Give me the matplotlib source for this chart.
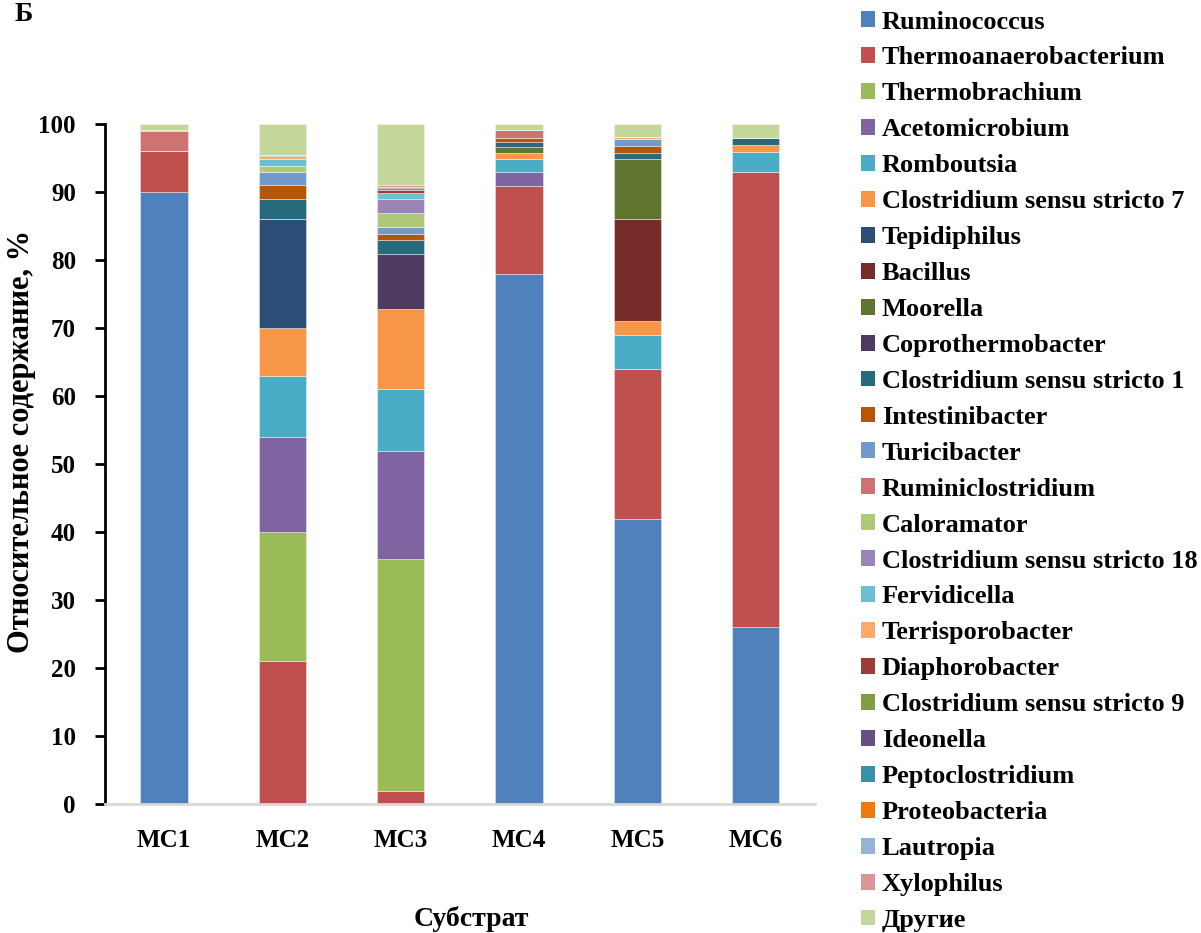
import matplotlib
matplotlib.use("Agg")
import matplotlib.pyplot as plt
import matplotlib.patches as mpatches
import numpy as np

plt.rcParams["font.family"] = ["Liberation Serif", "DejaVu Serif"]
plt.rcParams["font.weight"] = "bold"

samples = ["МС1", "МС2", "МС3", "МС4", "МС5", "МС6"]

# relative abundance, %, stacked bottom -> top
taxa = [
    "Ruminococcus", "Thermoanaerobacterium", "Thermobrachium", "Acetomicrobium",
    "Romboutsia", "Clostridium sensu stricto 7", "Tepidiphilus", "Bacillus",
    "Moorella", "Coprothermobacter", "Clostridium sensu stricto 1",
    "Intestinibacter", "Turicibacter", "Ruminiclostridium", "Caloramator",
    "Clostridium sensu stricto 18", "Fervidicella", "Terrisporobacter",
    "Diaphorobacter", "Clostridium sensu stricto 9", "Ideonella",
    "Peptoclostridium", "Proteobacteria", "Lautropia", "Xylophilus", "Другие",
]

ruminococcus = [90, 0, 0, 78, 42, 26]
thermoanaerobacterium = [6, 21, 2, 12.9, 22, 66.9]
thermobrachium = [0, 19, 34, 0, 0, 0]
acetomicrobium = [0, 14, 16, 2.0, 0, 0]
romboutsia = [0, 9, 9, 2.0, 5, 3.0]
clostridium_7 = [0, 7, 11.8, 0.8, 2, 1.0]
tepidiphilus = [0, 16, 0, 0, 0, 0]
bacillus = [0, 0, 0, 0, 15, 0]
moorella = [0, 0, 0, 1.0, 8.9, 0]
coprothermobacter = [0, 0, 8.1, 0, 0, 0]
clostridium_1 = [0, 3, 2.0, 0.7, 0.9, 1.0]
intestinibacter = [0, 2, 1.0, 0.6, 1.0, 0]
turicibacter = [0, 2, 1.0, 0, 1.0, 0]
ruminiclostridium = [3, 0, 0, 1.1, 0, 0]
caloramator = [0, 0.9, 2.0, 0, 0, 0]
clostridium_18 = [0, 0, 2.1, 0, 0, 0]
fervidicella = [0, 0.9, 0.9, 0, 0, 0]
terrisporobacter = [0, 0.5, 0, 0, 0.3, 0]
diaphorobacter = [0, 0, 0.4, 0, 0, 0]
clostridium_9 = [0, 0, 0.3, 0, 0, 0]
ideonella = [0, 0, 0.2, 0, 0, 0]
peptoclostridium = [0, 0.2, 0, 0, 0, 0]
proteobacteria = [0.2, 0, 0, 0, 0, 0]
lautropia = [0, 0, 0, 0, 0, 0]
xylophilus = [0, 0, 0.2, 0, 0, 0]
others = [0.8, 4.5, 9.0, 0.9, 1.9, 2.1]

values = [ruminococcus, thermoanaerobacterium, thermobrachium, acetomicrobium,
          romboutsia, clostridium_7, tepidiphilus, bacillus, moorella,
          coprothermobacter, clostridium_1, intestinibacter, turicibacter,
          ruminiclostridium, caloramator, clostridium_18, fervidicella,
          terrisporobacter, diaphorobacter, clostridium_9, ideonella,
          peptoclostridium, proteobacteria, lautropia, xylophilus, others]

colors = ["#4F81BD", "#C0504D", "#9BBB59", "#8064A2", "#4BACC6", "#F79646",
          "#2C4D75", "#772C2A", "#5F7530", "#4D3B62", "#276A7C", "#B65708",
          "#729ACA", "#CD7371", "#AFC97A", "#9A86B6", "#6FBDD1", "#F9AB6B",
          "#9E3B38", "#7F9D45", "#664F82", "#3A90A8", "#F07810", "#95B3D7",
          "#D99694", "#C4D79B"]

fig = plt.figure(figsize=(12.01, 9.33), dpi=100)
ax = fig.add_axes([0.0874, 0.138, 0.591, 0.729])

x = np.arange(len(samples))
bottom = np.zeros(len(samples))
for vals, c in zip(values, colors):
    vals = np.array(vals, dtype=float)
    ax.bar(x, vals, 0.4, bottom=bottom, color=c,
           edgecolor=(1, 1, 1, 0.45), linewidth=0.6)
    bottom += vals

ax.set_xlim(-0.5, 5.5)
ax.set_ylim(0, 100)
ax.set_yticks(np.arange(0, 101, 10))
ax.set_xticks(x)
ax.set_xticklabels(samples)
ax.tick_params(axis="y", direction="out", length=7, width=2, labelsize=18, pad=14)
ax.tick_params(axis="x", length=0, labelsize=18, pad=18)
for s in ["top", "right"]:
    ax.spines[s].set_visible(False)
ax.spines["left"].set_linewidth(2)
ax.spines["bottom"].set_linewidth(2)
ax.spines["bottom"].set_color("#D9D9D9")

ax.set_ylabel("Относительное содержание, %", fontsize=22, fontweight="bold")
ax.yaxis.set_label_coords(-0.097, 0.534)
ax.set_xlabel("Субстрат", fontsize=20, fontweight="bold")
ax.xaxis.set_label_coords(0.516, -0.149)

handles = [mpatches.Patch(facecolor=c, label=t) for t, c in zip(taxa, colors)]
fig.legend(handles=handles, loc="upper left", bbox_to_anchor=(0.708, 1.0),
           frameon=False, handlelength=0.55, handleheight=0.55,
           handletextpad=0.25, labelspacing=0.49, borderaxespad=0,
           prop={"weight": "bold", "size": 19})

fig.text(0.012, 0.998, "Б", fontsize=20, fontweight="bold", va="top", ha="left")

fig.savefig("out.png", dpi=100)
